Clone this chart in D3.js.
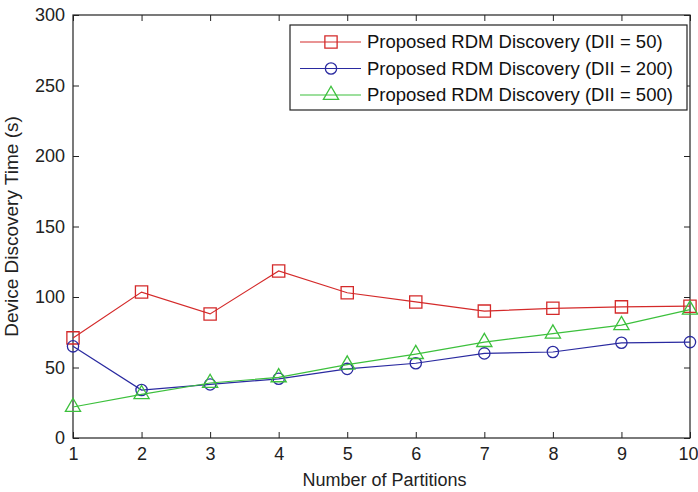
<!DOCTYPE html>
<html><head><meta charset="utf-8">
<script src="https://cdn.jsdelivr.net/npm/d3@7"></script>
<style>body{margin:0;background:#fff}svg text{font-family:"Liberation Sans",Arial,sans-serif}</style>
</head><body><svg id="c" width="698" height="492"></svg>
<script>
const partitions = [1,2,3,4,5,6,7,8,9,10];
const dii50  = [71,103.5,88,118.5,103,96.5,90,92,93,93.5];
const dii200 = [65,34,38,42,49,53,60,61,67.5,68];
const dii500 = [22,31,39,43,52,59.5,68,74,80,91];
const yTicks = [0,50,100,150,200,250,300];
const seriesNames = ["Proposed RDM Discovery (DII = 50)","Proposed RDM Discovery (DII = 200)","Proposed RDM Discovery (DII = 500)"];

const svg = d3.select("#c");
const L=73,R=690,T=15,B=438;
const x = d3.scaleLinear().domain([1,10]).range([L,R]);
const y = d3.scaleLinear().domain([0,300]).range([B,T]);
const axisCol="#222";

svg.append("rect").attr("x",L).attr("y",T).attr("width",R-L).attr("height",B-T).attr("fill","none").attr("stroke",axisCol).attr("stroke-width",1.2);

const gx = svg.append("g").attr("transform",`translate(0,${B})`).call(d3.axisBottom(x).tickValues(partitions).tickSizeInner(-6).tickSizeOuter(0).tickPadding(9));
const gy = svg.append("g").attr("transform",`translate(${L},0)`).call(d3.axisLeft(y).tickValues(yTicks).tickSizeInner(-6).tickSizeOuter(0).tickPadding(8));
const gt = svg.append("g").attr("transform",`translate(0,${T})`).call(d3.axisTop(x).tickValues(partitions).tickSizeInner(-6).tickSizeOuter(0).tickFormat(""));
const gr = svg.append("g").attr("transform",`translate(${R},0)`).call(d3.axisRight(y).tickValues(yTicks).tickSizeInner(-6).tickSizeOuter(0).tickFormat(""));
[gx,gy,gt,gr].forEach(g=>{g.select(".domain").remove();g.selectAll("line").attr("stroke",axisCol);g.selectAll("text").attr("fill","#222").style("font-size","18px").style("font-family","'Liberation Sans',Arial,sans-serif");});
gx.selectAll(".tick text").filter(d=>d===10).attr("text-anchor","end").attr("dx","8");

svg.append("text").attr("x",(L+R)/2+3).attr("y",486).attr("text-anchor","middle").attr("fill","#222").style("font-size","18px").text("Number of Partitions");
svg.append("text").attr("transform",`translate(18,${(T+B)/2}) rotate(-90)`).attr("text-anchor","middle").attr("fill","#222").style("font-size","19px").text("Device Discovery Time (s)");

const colors=["#d42a2a","#2a2aa0","#3cc03c"];
const data=[dii50,dii200,dii500];
const line=d3.line().x((d,i)=>x(partitions[i])).y(d=>y(d));
const sq=d3.symbol().type(d3.symbolSquare).size(150);
const ci=d3.symbol().type(d3.symbolCircle).size(100);
const tr=d3.symbol().type(d3.symbolTriangle).size(100);
const syms=[sq,ci,tr];
data.forEach((s,k)=>{
  svg.append("path").attr("d",line(s)).attr("fill","none").attr("stroke",colors[k]).attr("stroke-width",1.2);
  svg.selectAll(null).data(s).enter().append("path").attr("d",syms[k]())
    .attr("transform",(d,i)=>`translate(${x(partitions[i])},${y(d)})`)
    .attr("fill","none").attr("stroke",colors[k]).attr("stroke-width",1.3);
});

// legend
const lg=svg.append("g");
lg.append("rect").attr("x",290).attr("y",25).attr("width",397).attr("height",85).attr("fill","#fff").attr("stroke",axisCol).attr("stroke-width",1.2);
seriesNames.forEach((n,k)=>{
  const yy=42+k*26.5;
  lg.append("line").attr("x1",300).attr("x2",361).attr("y1",yy).attr("y2",yy).attr("stroke",colors[k]).attr("stroke-width",1.2);
  lg.append("path").attr("d",syms[k]()).attr("transform",`translate(331,${yy})`).attr("fill","none").attr("stroke",colors[k]).attr("stroke-width",1.3);
  lg.append("text").attr("x",367).attr("y",yy+6).attr("fill","#111").style("font-size","18.5px").text(n);
});
</script></body></html>
